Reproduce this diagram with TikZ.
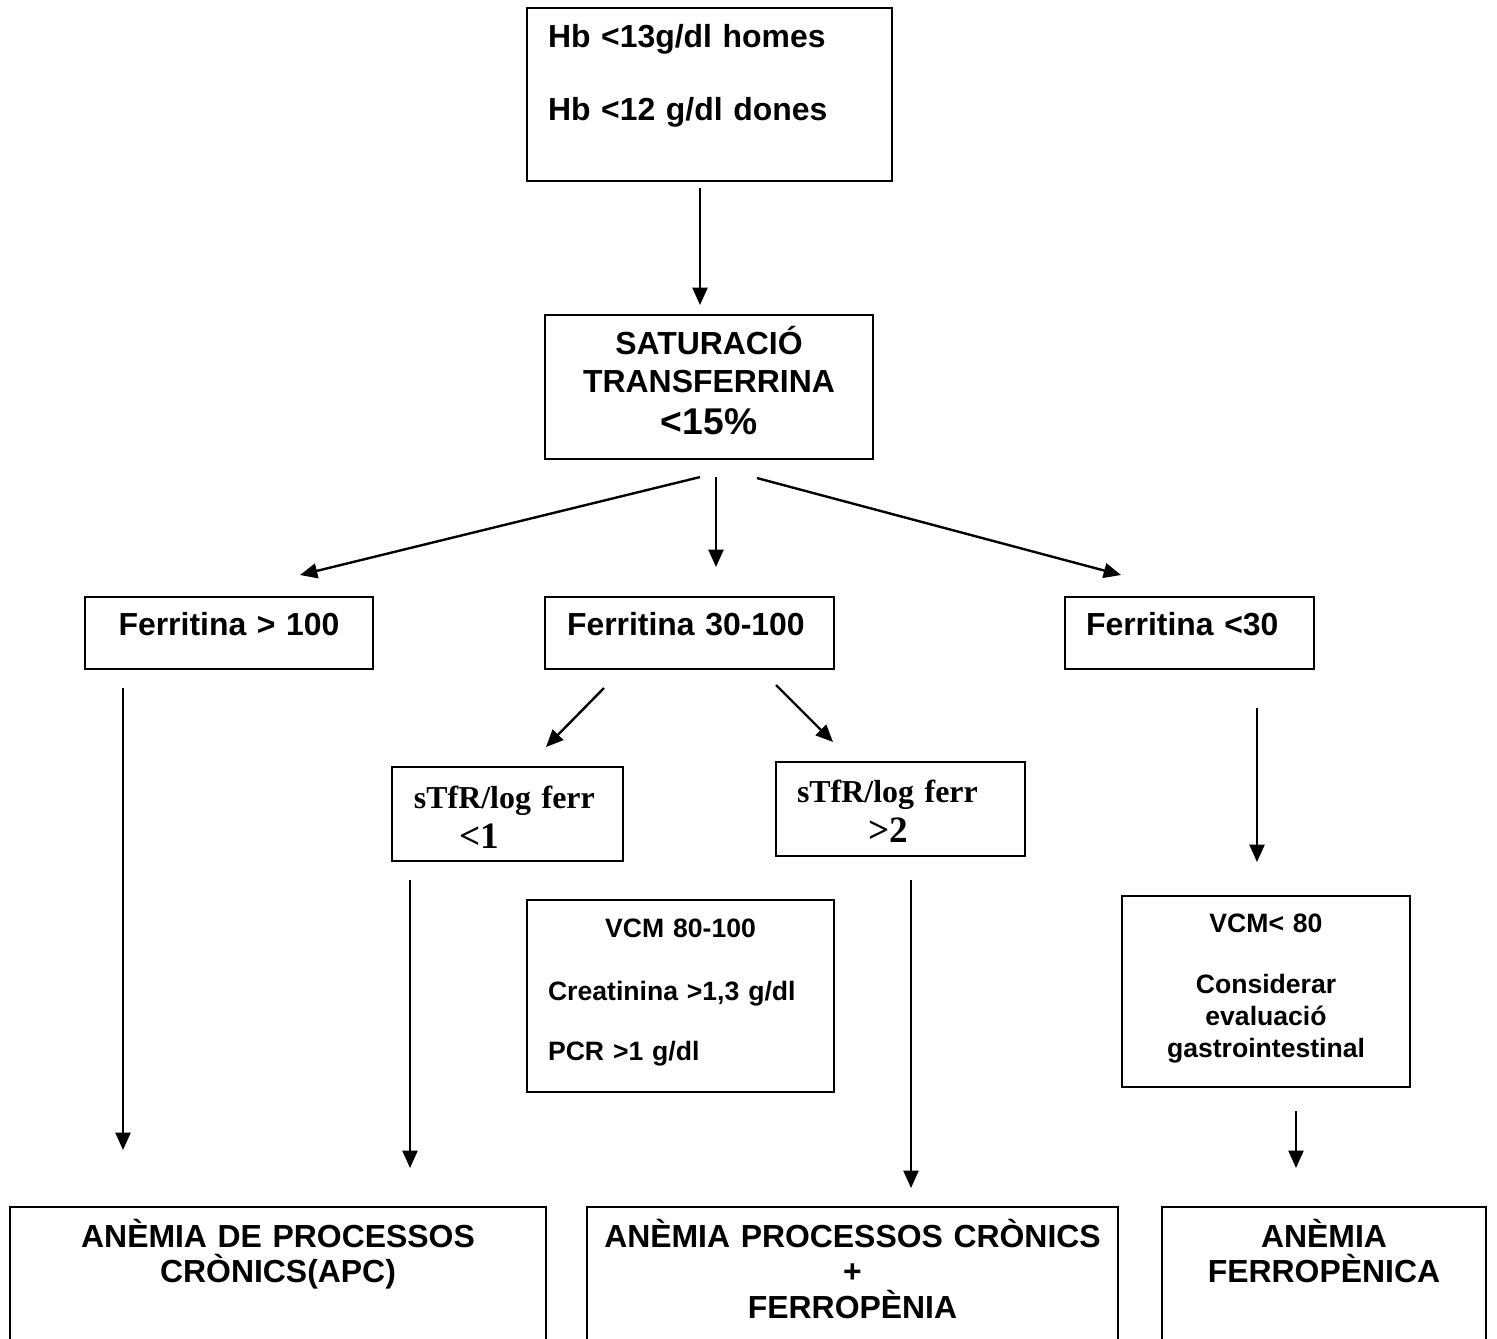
\documentclass[tikz,border=0pt]{standalone}
\usepackage{fontspec}
\setmainfont{Liberation Sans}
\newfontfamily\serifbf{Liberation Serif}
\usetikzlibrary{arrows.meta}
\usetikzlibrary{calc}

\begin{document}
\begin{tikzpicture}[x=0.376pt,y=-0.376pt,line width=0.9pt,
>={Triangle[length=6.5pt,width=5.6pt]},
blok/.style={draw,rectangle,anchor=base,inner ysep=0pt,outer sep=0pt,line width=0.75pt,
  font=\fontsize{12}{14.4}\selectfont\bfseries},
smal/.style={font=\fontsize{10}{12}\selectfont\bfseries},
tms/.style={font=\serifbf\fontsize{12}{14.4}\selectfont\bfseries}]
\useasboundingbox (0,0) rectangle (1497,1338);
\clip (0,0) rectangle (1497,1338);
% top of the chart
\draw (709.5,47) node[blok,inner xsep=7.9pt,text width=121.44pt,align=left,
  text height=14.66pt,text depth=50.38pt] (hb) {Hb <13g/dl homes\\[13.4pt]Hb <12 g/dl dones};
\draw (709,354) node[blok,inner xsep=0pt,text width=123.33pt,align=center,
  text height=14.66pt,text depth=39.5pt] (sat) {SATURACIÓ\\TRANSFERRINA\\[1.6pt]{\fontsize{14}{16.8}\selectfont <15\%}};
% ferritina
\draw (229,635) node[blok,inner xsep=0pt,text width=108.29pt,align=center,
  text height=14.29pt,text depth=12.78pt] (f100) {Ferritina > 100};
\draw (689.5,635) node[blok,inner xsep=8.27pt,text width=92.12pt,align=left,
  text height=14.29pt,text depth=12.78pt] (f30) {Ferritina 30-100};
\draw (1189.5,635) node[blok,inner xsep=7.9pt,text width=77.82pt,align=left,
  text height=14.29pt,text depth=12.78pt] (f0) {Ferritina <30};
% sTfR
\draw (507.5,808) node[blok,tms,inner xsep=8.27pt,text width=70.32pt,align=left,
  text height=15.42pt,text depth=19.93pt] (s1) {sTfR/log ferr\\[1pt]\hspace*{17pt}{\fontsize{14}{16.8}\selectfont <1}};
\draw (900.5,802) node[blok,tms,inner xsep=7.9pt,text width=77.82pt,align=left,
  text height=15.04pt,text depth=20.3pt] (s2) {sTfR/log ferr\\[1pt]\hspace*{26.7pt}{\fontsize{14}{16.8}\selectfont >2}};
% VCM
\draw (680.5,937) node[blok,smal,inner xsep=7.9pt,text width=99.63pt,align=left,
  text height=13.91pt,text depth=58.28pt] (vcm) {\hfill VCM 80-100\hfill\null\\[11.7pt]Creatinina >1,3 g/dl\\[10.6pt]PCR >1 g/dl};
\draw (1266,932) node[blok,smal,inner xsep=0pt,text width=108.29pt,align=center,
  text height=13.53pt,text depth=58.28pt] (vcm80) {VCM< 80\\[11.3pt]Considerar\\[-0.3pt]evaluació\\gastrointestinal};
% diagnosis
\draw (278,1247) node[blok,inner xsep=0pt,text width=201.5pt,align=center,
  text height=15.04pt,text depth=60pt] (apc) {ANÈMIA DE PROCESSOS\\[-1.2pt]CRÒNICS(APC)};
\draw (852.5,1247) node[blok,inner xsep=0pt,text width=199.66pt,align=center,
  text height=15.04pt,text depth=60pt] (apf) {ANÈMIA PROCESSOS CRÒNICS\\[-1pt]+\\[-1pt]FERROPÈNIA};
\draw (1324,1247) node[blok,inner xsep=0pt,text width=121.82pt,align=center,
  text height=15.04pt,text depth=60pt] (af) {ANÈMIA\\[-1.2pt]FERROPÈNICA};
% arrows
\draw[->] ($(hb.south)+(-9.5,7)$) -- ($(sat.north)+(-9,-10)$);
\draw[->] ($(sat.south)+(-9,18)$) -- ($(f100.north)+(71,-22)$);
\draw[->] ($(sat.south)+(7,18)$) -- ($(f30.north)+(26.5,-30)$);
\draw[->] ($(sat.south)+(48,19)$) -- ($(f0.north)+(-68.5,-22)$);
\draw[->] ($(f30.south)+(-85.5,19)$) -- ($(s1.north)+(38.5,-20)$);
\draw[->] ($(f30.south)+(86.5,16)$) -- ($(s2.north)+(-67.5,-20)$);
\draw[->] ($(f100.south)+(-106,19)$) -- ($(apc.north)+(-155,-57)$);
\draw[->] ($(s1.south)+(-97.5,19)$) -- ($(apc.north)+(132,-39)$);
\draw[->] ($(s2.south)+(10.5,24)$) -- ($(apf.north)+(58.5,-19)$);
\draw[->] ($(f0.south)+(67.5,39)$) -- ($(vcm80.north)+(-9,-34)$);
\draw[->] ($(vcm80.south)+(30,24)$) -- ($(af.north)+(-28,-39)$);
\end{tikzpicture}
\end{document}
